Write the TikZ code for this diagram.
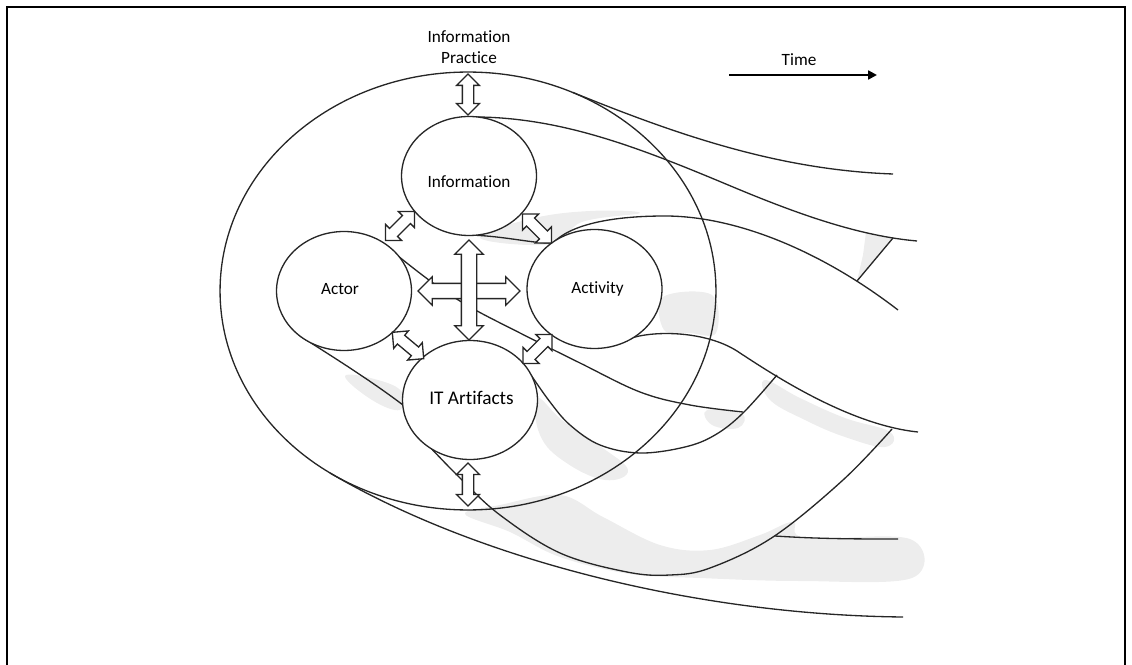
\documentclass[tikz,border=0pt]{standalone}
\usepackage{fontspec}
\setmainfont{Carlito}[Ligatures=NoCommon]
\usetikzlibrary{shapes.geometric,shapes.arrows,arrows.meta}
\begin{document}
\begin{tikzpicture}[x=0.02cm,y=-0.02cm,
  ln/.style={draw=black!85,line width=0.75pt},
  curve/.style={draw=black!85,line width=0.75pt},
  circ/.style={ellipse,ln,fill=white,inner sep=0pt,minimum width=2.7cm,minimum height=2.38cm},
  shadearea/.style={fill=black!7},
  dbl/.style={double arrow,ln,fill=white,inner xsep=0pt,minimum width=0pt,double arrow tip angle=90},
  smallarrow/.style={dbl,minimum height=0.82cm,inner ysep=0.1cm,double arrow head extend=0.115cm},
  bigarrow/.style={dbl,inner ysep=0.14cm,double arrow head extend=0.13cm},
  lbl/.style={font=\fontsize{9.8}{11.9}\selectfont,inner sep=0pt,align=center}
]
\useasboundingbox (0,0) rectangle (1132,665);
% frame
\draw[line width=1.4pt] (7,665) -- (7,7) -- (1125,7) -- (1125,665);

% shaded areas
\fill[shadearea] plot[smooth cycle,tension=0.7] coordinates {(480,238) (553,244) (582,222) (640,213) (590,211) (530,219)};
\fill[shadearea] plot[smooth cycle,tension=0.6] coordinates {(663,297) (712,295) (716,333) (690,333) (664,330)};
\fill[shadearea] (866,232) -- (893,238) -- (857,281) -- (863,255) -- cycle;
\fill[shadearea] plot[smooth cycle,tension=0.7] coordinates {(765,380) (800,398) (845,418) (890,432) (885,447) (845,437) (805,420) (770,400)};
\fill[shadearea] plot[smooth cycle,tension=0.7] coordinates {(707,410) (742,414) (738,428) (712,425)};
\fill[shadearea] plot[smooth cycle,tension=0.7] coordinates {(537,398) (562,420) (600,446) (628,470) (605,480) (565,462) (540,435)};
\fill[shadearea] plot[smooth cycle,tension=0.6] coordinates {(465,514) (500,505) (560,495) (603,517) (660,545) (710,550) (760,535) (793,522) (805,538) (910,539) (912,578) (800,581) (700,578) (630,574) (560,557) (510,532)};
\fill[shadearea] plot[smooth cycle,tension=0.7] coordinates {(345,376) (378,380) (402,392) (400,410) (372,400)};

% tails
\draw[curve] (573,92.5) .. controls (680,136) and (780,170) .. (893,174);
\draw[curve] (469,117) .. controls (560,116) and (640,148) .. (733,187) .. controls (800,215) and (860,236) .. (917,241);
\draw[curve] (469,235) .. controls (505,236) and (535,244) .. (553,243);
\draw[curve] (553,243) .. controls (570,225) and (610,216) .. (665,216) .. controls (735,216) and (820,250) .. (898,310);
\coordinate (cutA1) at (893,238);
\coordinate (cutA2) at (857,281);
\draw[curve] (cutA1) -- (cutA2);
\draw[curve] (633,337.5) .. controls (660,330) and (710,332) .. (740,353) .. controls (775,376) and (850,425) .. (918,432);
\draw[curve] plot[smooth,tension=0.6] coordinates {(398,256) (433,283) (470,307) (520,333) (580,363) (640,392) (690,405) (743,412)};
\draw[curve] plot[smooth,tension=0.6] coordinates {(531,375) (550,402) (570,425) (600,445) (640,453) (685,447) (715,435) (743,413) (777,375)};
\draw[curve] (300,336) .. controls (330,355) and (370,380) .. (403,405);
\draw[curve] plot[smooth,tension=0.6] coordinates {(427,444) (460,478) (500,515) (560,553) (627,572) (670,575) (710,568) (773,537) (843,480) (892,429)};
\draw[curve] (775,536) .. controls (820,539) and (860,539) .. (898,539);
\draw[curve] (330,473) .. controls (480,561) and (700,615) .. (903,617);

% outer ellipse
\node[ellipse,ln,inner sep=0pt,minimum width=9.92cm,minimum height=8.76cm] (outer) at (468,291) {};

% circles
\node[circ] (info) at (469,176) {};
\node[circ] (actor) at (344,291) {};
\node[circ] (act) at (594.5,289) {};
\node[circ] (it) at (470,400) {};

% double arrows
\node[smallarrow,rotate=90] (top) at (468,94.5) {};
\node[smallarrow,rotate=90,minimum height=0.86cm] (bottom) at (468,484.5) {};
\node[bigarrow,minimum height=2.04cm] (crossh) at (469,291) {};
\node[bigarrow,rotate=90,minimum height=2cm] (crossv) at (469,290) {};
\node[smallarrow,rotate=45] (ul) at (400,226) {};
\node[smallarrow,rotate=-45] (ur) at (537,228.5) {};
\node[smallarrow,rotate=-40] (ll) at (408,345.5) {};
\node[smallarrow,rotate=45] (lr) at (537.5,349) {};

% labels
\node[lbl] (infolbl) at (469,182) {Information};
\node[lbl] (actorlbl) at (340,289) {Actor};
\node[lbl] (actlbl) at (597.5,289) {Activity};
\node[lbl,font=\fontsize{11}{13}\selectfont] (itlbl) at (471.5,398) {IT Artifacts};
\node[lbl] (ip) at (469,47) {Information\\Practice};
\node[lbl] (time) at (799,60) {Time};
\coordinate (tA) at (729,75);
\coordinate (tB) at (877,75);
\draw[line width=1.4pt,-{Triangle[length=5pt,width=5pt]}] (tA) -- (tB);
\end{tikzpicture}
\end{document}
